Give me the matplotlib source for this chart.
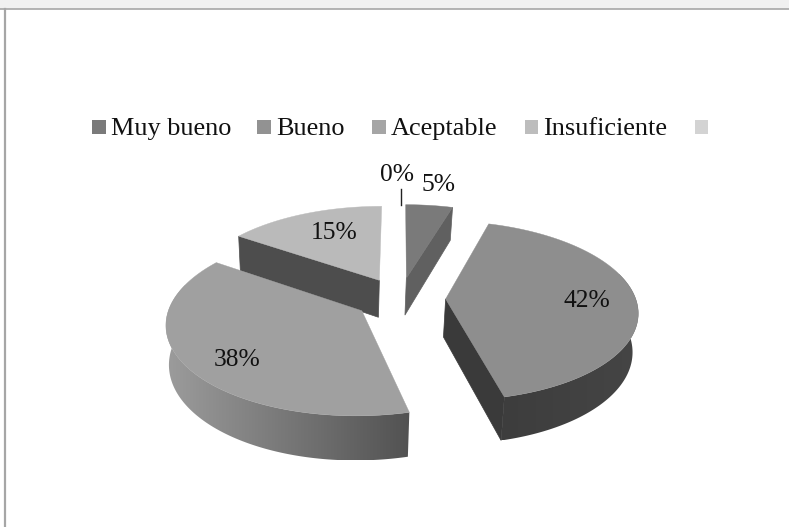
import numpy as np
import matplotlib
matplotlib.use("Agg")
import matplotlib.pyplot as plt
from matplotlib.patches import Polygon

# legend entries, last one has no name in the source chart
categories = ["Muy bueno", "Bueno", "Aceptable", "Insuficiente", ""]
values = [4.6, 41.55, 38.45, 15.4, 0.0]

# look of each slice
top_colors = ["#7a7a7a", "#8e8e8e", "#a0a0a0", "#bababa"]
cut_colors = ["#606060", "#3a3a3a", "#555555", "#4d4d4d"]
arc_colors = [("#5a5a5a", "#5a5a5a"), ("#3d3d3d", "#454545"), ("#9c9c9c", "#525252"), ("#555555", "#555555")]
legend_colors = ["#7a7a7a", "#929292", "#a5a5a5", "#bdbdbd", "#d3d3d3"]
legend_x = [92.5, 257.5, 372.5, 525, 695]
label_pos = [(439, 185), (587, 301), (237, 360), (334, 233), (397, 175)]

# fake 3d view
cx, cy = 400, 298.5
rx, ry = 190, 88
persp = 0.13
explode = 0.24
depth = 38

plt.rcParams["font.family"] = ["Liberation Serif", "DejaVu Serif"]

fig = plt.figure(figsize=(7.89, 5.27), dpi=100)
ax = fig.add_axes([0, 0, 1, 1])
ax.axis("off")


def project(x, y, low=False):
    w = 1 + persp * y
    sx = cx + rx * x / w
    sy = cy - ry * y / w
    if low:
        sx = sx + (329 - sx) * 0.0185
        sy = sy + depth / w
    return np.column_stack([sx, sy])


def quad(xa, ya, xb, yb):
    return np.vstack([project(xa, ya), project(xb, yb),
                      project(xb, yb, True), project(xa, ya, True)])


# window frame
ax.fill_between([0, 789], 0, 8.5, color="#f0f0f0", lw=0)
ax.plot([0, 789], [9, 9], color="#a6a6a6", lw=1.2)
ax.plot([5.5, 5.5], [9, 527], color="#a6a6a6", lw=1.6)

total = sum(values)
fractions = np.cumsum([0] + values) / total * 2 * np.pi
order = [0, 3, 1, 2]  # back to front

for i in order:
    z = order.index(i) * 3
    t0, t1 = fractions[i], fractions[i + 1]
    mid = (t0 + t1) / 2
    ox, oy = explode * np.sin(mid), explode * np.cos(mid)
    t = np.linspace(t0, t1, 160)
    ex, ey = ox + np.sin(t), oy + np.cos(t)

    # straight cut faces, only the ones turned to the viewer
    if np.sin(t0) < -1e-6:
        ax.fill(*quad(ox, oy, ex[0], ey[0]).T, color=cut_colors[i], lw=0.5, zorder=z)
    if np.sin(t1) > 1e-6:
        ax.fill(*quad(ox, oy, ex[-1], ey[-1]).T, color=cut_colors[i], lw=0.5, zorder=z)

    # rounded outer wall with a horizontal gradient, the back part stays under the top face
    front = np.cos(t) < 0.3
    if front.sum() > 1 and i in (1, 2):
        upper = project(ex[front], ey[front])
        lower = project(ex[front], ey[front], True)
        wall = np.vstack([upper, lower[::-1]])
        c0 = np.array(matplotlib.colors.to_rgb(arc_colors[i][0]))
        c1 = np.array(matplotlib.colors.to_rgb(arc_colors[i][1]))
        grad = np.linspace(0, 1, 256)[None, :, None] * (c1 - c0) + c0
        im = ax.imshow(grad, extent=(wall[:, 0].min(), wall[:, 0].max(), wall[:, 1].max(), wall[:, 1].min()),
                       aspect="auto", zorder=z + 1)
        im.set_clip_path(Polygon(wall, transform=ax.transData))

    # top face
    top = project(np.r_[ox, ex], np.r_[oy, ey])
    ax.fill(top[:, 0], top[:, 1], color=top_colors[i], lw=0.3, zorder=z + 2)

# legend
for name, col, x in zip(categories, legend_colors, legend_x):
    ax.fill([x, x + 13.5, x + 13.5, x], [120, 120, 134, 134], color=col, lw=0)
    if name:
        ax.text(x + 18.5, 135, name, fontsize=18.9, color="#111111", va="baseline", ha="left")

# percent labels
for v, (lx, ly) in zip(values, label_pos):
    ax.text(lx, ly, f"{v:.0f}%", fontsize=18.4, color="#111111", ha="center", va="center", zorder=30)
ax.plot([400.7, 400.7], [189, 205], color="#222222", lw=1, zorder=30)

ax.set_xlim(0, 789)
ax.set_ylim(527, 0)

fig.savefig("out.png", dpi=100)
